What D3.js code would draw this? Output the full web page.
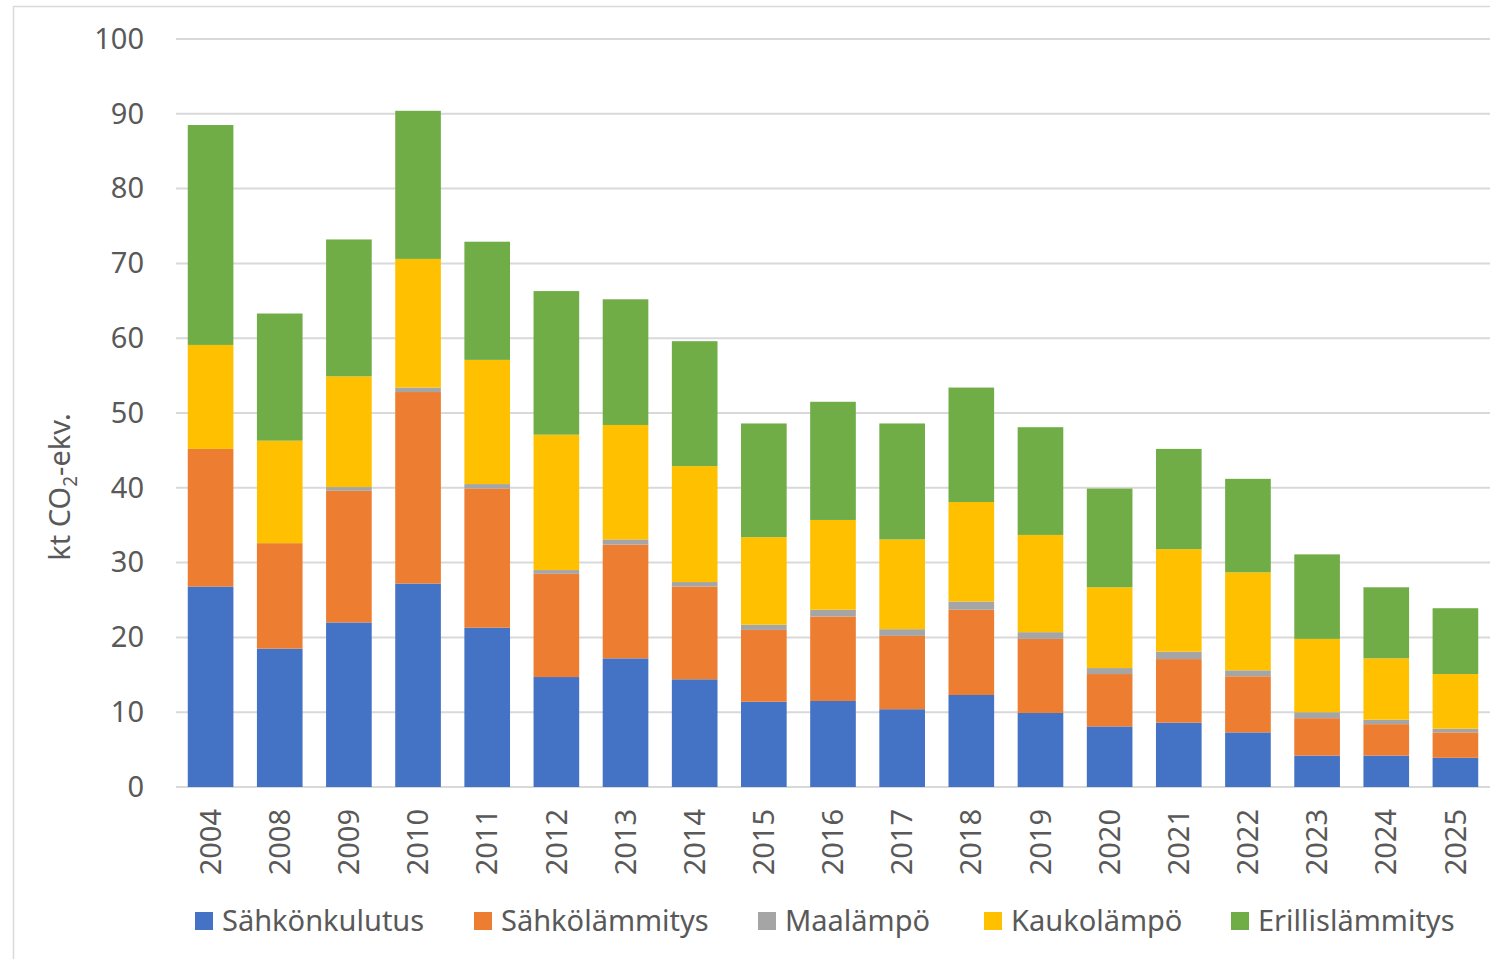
<!DOCTYPE html>
<html>
<head>
<meta charset="utf-8">
<script src="https://cdn.jsdelivr.net/npm/d3@7"></script>
<style>
  body { margin: 0; background: #fff; }
  text { font-family: "Noto Sans", "Open Sans", sans-serif; fill: #595959; }
</style>
</head>
<body>
<svg id="chart" width="1490" height="959"></svg>
<script>
const years = ["2004","2008","2009","2010","2011","2012","2013","2014","2015","2016",
  "2017","2018","2019","2020","2021","2022","2023","2024","2025"];
const sahkonkulutus  = [26.8, 18.5, 22.0, 27.2, 21.3, 14.7, 17.2, 14.4, 11.4, 11.5, 10.4, 12.3, 9.9, 8.1, 8.6, 7.3, 4.2, 4.2, 3.9];
const sahkolammitys  = [18.4, 14.1, 17.6, 25.6, 18.6, 13.8, 15.2, 12.4, 9.6, 11.3, 9.8, 11.4, 9.9, 7.0, 8.5, 7.5, 5.0, 4.2, 3.4];
const maalampo       = [0, 0, 0.5, 0.6, 0.6, 0.5, 0.7, 0.6, 0.7, 0.9, 0.9, 1.1, 0.9, 0.8, 1.0, 0.8, 0.8, 0.6, 0.5];
const kaukolampo     = [13.9, 13.7, 14.8, 17.2, 16.6, 18.1, 15.3, 15.5, 11.7, 12.0, 12.0, 13.3, 13.0, 10.8, 13.7, 13.1, 9.8, 8.2, 7.3];
const erillislammitys = [29.4, 17.0, 18.3, 19.8, 15.8, 19.2, 16.8, 16.7, 15.2, 15.8, 15.5, 15.3, 14.4, 13.2, 13.4, 12.5, 11.3, 9.5, 8.8];
const seriesNames = ["Sähkönkulutus", "Sähkölämmitys", "Maalämpö", "Kaukolämpö", "Erillislämmitys"];
const colors = ["#4472C4", "#ED7D31", "#A5A5A5", "#FFC000", "#70AD47"];
const yTicks = [0, 10, 20, 30, 40, 50, 60, 70, 80, 90, 100];

const svg = d3.select("#chart");

// chart border
svg.append("rect")
  .attr("x", 13.5).attr("y", 6.5)
  .attr("width", 1490).attr("height", 970)
  .attr("fill", "none").attr("stroke", "#d9d9d9").attr("stroke-width", 1.5);

const plotLeft = 176, plotRight = 1490, plotTop = 39, plotBottom = 787;

const x = d3.scaleBand().domain(years).range([plotLeft, plotRight]).paddingInner(0.34).paddingOuter(0.17);
const y = d3.scaleLinear().domain([0, 100]).range([plotBottom, plotTop]);

// gridlines
svg.append("g")
  .selectAll("line")
  .data(yTicks)
  .enter()
  .append("line")
  .attr("x1", plotLeft).attr("x2", plotRight)
  .attr("y1", d => y(d)).attr("y2", d => y(d))
  .attr("stroke", "#d9d9d9").attr("stroke-width", 2);

// y axis labels
const yAxis = svg.append("g")
  .attr("transform", "translate(" + (plotLeft - 32) + ",0)")
  .call(d3.axisLeft(y).tickValues(yTicks).tickSize(0).tickPadding(0));
yAxis.select(".domain").remove();
yAxis.selectAll("text")
  .attr("font-size", 29).attr("fill", "#595959")
  .style("font-family", "'Noto Sans', sans-serif");

// stacked data
const table = years.map((yr, i) => ({
  year: yr,
  s0: sahkonkulutus[i], s1: sahkolammitys[i], s2: maalampo[i], s3: kaukolampo[i], s4: erillislammitys[i]
}));
const stack = d3.stack().keys(["s0", "s1", "s2", "s3", "s4"])(table);

svg.append("g")
  .selectAll("g")
  .data(stack)
  .enter()
  .append("g")
  .attr("fill", (d, i) => colors[i])
  .selectAll("rect")
  .data(d => d)
  .enter()
  .append("rect")
  .attr("x", d => x(d.data.year))
  .attr("width", x.bandwidth())
  .attr("y", d => y(d[1]))
  .attr("height", d => Math.max(0, y(d[0]) - y(d[1])));

// x axis labels
const xAxis = svg.append("g")
  .attr("transform", "translate(0," + plotBottom + ")")
  .call(d3.axisBottom(x).tickSize(0));
xAxis.select(".domain").remove();
xAxis.selectAll("text")
  .attr("font-size", 29).attr("fill", "#595959")
  .style("font-family", "'Noto Sans', sans-serif")
  .attr("transform", "rotate(-90)")
  .attr("text-anchor", "end")
  .attr("x", -22).attr("y", 0).attr("dy", "0.35em");

// y axis title
const yt = svg.append("text")
  .attr("transform", "translate(70,487) rotate(-90)")
  .attr("text-anchor", "middle")
  .attr("font-size", 29);
yt.append("tspan").text("kt CO");
yt.append("tspan").text("2").attr("font-size", 19).attr("dy", 7);
yt.append("tspan").text("-ekv.").attr("dy", -7);

// legend
const legendX = [195, 474, 758, 984, 1231];
const legend = svg.append("g")
  .selectAll("g")
  .data(seriesNames)
  .enter()
  .append("g")
  .attr("transform", (d, i) => "translate(" + legendX[i] + ",912)");
legend.append("rect")
  .attr("width", 18).attr("height", 18)
  .attr("fill", (d, i) => colors[i]);
legend.append("text")
  .attr("x", 27).attr("y", 9).attr("dy", "0.35em")
  .attr("font-size", 29)
  .text(d => d);
</script>
</body>
</html>
